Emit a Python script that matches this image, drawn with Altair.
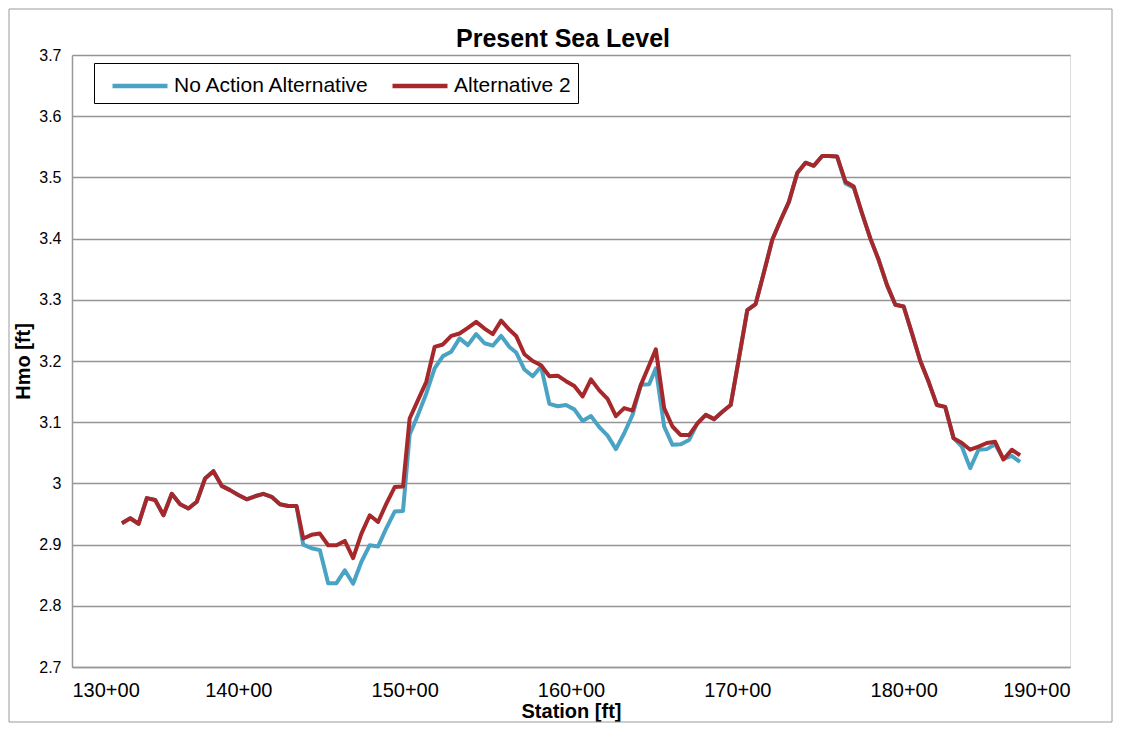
import altair as alt
import pandas as pd

stations = [133.0, 133.5, 134.0, 134.5, 135.0, 135.5, 136.0, 136.5, 137.0, 137.5,
            138.0, 138.5, 139.0, 139.5, 140.0, 140.5, 141.0, 141.5, 142.0, 142.5,
            143.0, 143.5, 143.9, 144.4, 144.9, 145.4, 145.9, 146.4, 146.9, 147.4,
            147.9, 148.4, 148.9, 149.4, 149.9, 150.3, 150.8, 151.3, 151.8, 152.3,
            152.8, 153.3, 153.8, 154.3, 154.8, 155.3, 155.8, 156.3, 156.7, 157.2,
            157.7, 158.2, 158.7, 159.2, 159.7, 160.2, 160.7, 161.2, 161.7, 162.2,
            162.7, 163.2, 163.7, 164.2, 164.7, 165.1, 165.6, 166.1, 166.6, 167.1,
            167.6, 168.1, 168.6, 169.1, 169.6, 170.1, 170.6, 171.1, 171.6, 172.1,
            172.6, 173.1, 173.6, 174.1, 174.6, 175.1, 175.5, 176.0, 176.5, 177.0,
            177.5, 178.0, 178.5, 179.0, 179.5, 180.0, 180.5, 181.0, 181.5, 182.0,
            182.5, 183.0, 183.5, 184.0, 184.5, 185.0, 185.5, 186.0, 186.5, 187.0]

alternative_2 = [2.935, 2.943, 2.934, 2.976, 2.973, 2.948, 2.983, 2.966, 2.959, 2.970,
                 3.008, 3.020, 2.996, 2.989, 2.981, 2.974, 2.979, 2.983, 2.978, 2.966,
                 2.963, 2.963, 2.910, 2.916, 2.918, 2.899, 2.899, 2.906, 2.878, 2.918,
                 2.948, 2.937, 2.967, 2.994, 2.995, 3.106, 3.136, 3.166, 3.223, 3.227,
                 3.241, 3.245, 3.254, 3.264, 3.253, 3.244, 3.266, 3.251, 3.241, 3.211,
                 3.200, 3.193, 3.175, 3.176, 3.167, 3.159, 3.142, 3.170, 3.152, 3.138,
                 3.110, 3.123, 3.119, 3.161, 3.193, 3.219, 3.123, 3.093, 3.079, 3.079,
                 3.098, 3.112, 3.105, 3.117, 3.128, 3.205, 3.283, 3.293, 3.345, 3.398,
                 3.430, 3.460, 3.507, 3.524, 3.519, 3.535, 3.535, 3.534, 3.493, 3.485,
                 3.441, 3.400, 3.365, 3.324, 3.292, 3.289, 3.245, 3.200, 3.166, 3.128,
                 3.125, 3.074, 3.066, 3.055, 3.060, 3.066, 3.068, 3.039, 3.055, 3.046]

no_action = [2.935, 2.943, 2.934, 2.976, 2.973, 2.948, 2.983, 2.966, 2.959, 2.970,
             3.008, 3.020, 2.996, 2.989, 2.981, 2.974, 2.979, 2.983, 2.978, 2.966,
             2.963, 2.963, 2.900, 2.894, 2.891, 2.837, 2.837, 2.858, 2.836, 2.872,
             2.899, 2.897, 2.927, 2.954, 2.955, 3.080, 3.112, 3.147, 3.188, 3.208,
             3.215, 3.237, 3.226, 3.244, 3.229, 3.225, 3.241, 3.223, 3.214, 3.186,
             3.175, 3.191, 3.130, 3.126, 3.128, 3.121, 3.102, 3.110, 3.092, 3.078,
             3.056, 3.082, 3.112, 3.161, 3.162, 3.188, 3.093, 3.063, 3.064, 3.071,
             3.098, 3.112, 3.105, 3.117, 3.128, 3.205, 3.283, 3.293, 3.345, 3.398,
             3.430, 3.460, 3.507, 3.524, 3.519, 3.535, 3.535, 3.534, 3.490, 3.483,
             3.441, 3.400, 3.365, 3.324, 3.292, 3.289, 3.245, 3.200, 3.166, 3.128,
             3.125, 3.074, 3.060, 3.025, 3.055, 3.056, 3.064, 3.040, 3.045, 3.035]

series_names = ["No Action Alternative", "Alternative 2"]
series_colors = ["#4BA3C3", "#A6282B"]
x_ticks = [130, 140, 150, 160, 170, 180, 190]
y_ticks = [2.7, 2.8, 2.9, 3.0, 3.1, 3.2, 3.3, 3.4, 3.5, 3.6, 3.7]

df = pd.concat([
    pd.DataFrame({"station": stations, "hmo": no_action, "series": series_names[0]}),
    pd.DataFrame({"station": stations, "hmo": alternative_2, "series": series_names[1]}),
])

FONT = "Liberation Sans"
W, H = 998, 612

x_enc = alt.X("station:Q",
              scale=alt.Scale(domain=[130, 190], nice=False, zero=False),
              axis=alt.Axis(values=x_ticks, labelExpr="datum.value + '+00'",
                            title="Station [ft]", grid=False, ticks=False,
                            domainColor="#999999", domainWidth=1.5,
                            labelFontSize=20, labelPadding=13, labelColor="black",
                            labelFont=FONT, titleFont=FONT, titleFontSize=20,
                            titleFontWeight="bold", titleColor="black", titlePadding=1))
y_enc = alt.Y("hmo:Q",
              scale=alt.Scale(domain=[2.7, 3.7], nice=False, zero=False),
              axis=alt.Axis(values=y_ticks, format="~g", title="Hmo [ft]",
                            grid=True, gridColor="#959595", gridWidth=1.5,
                            ticks=False, domainColor="#999999", domainWidth=1.5,
                            labelFontSize=16, labelPadding=11, labelColor="black",
                            labelFont=FONT, titleFont=FONT, titleFontSize=20,
                            titleFontWeight="bold", titleColor="black", titlePadding=5))
color_enc = alt.Color("series:N",
                      scale=alt.Scale(domain=series_names, range=series_colors),
                      legend=alt.Legend(title=None, orient="none", legendX=22, legendY=8,
                                        direction="horizontal", symbolType="M-2,0H2",
                                        symbolSize=756, symbolStrokeWidth=4.5,
                                        symbolOffset=23,
                                        labelFontSize=21, labelFont=FONT, labelColor="black",
                                        labelLimit=400, columnPadding=10, labelOffset=18,
                                        strokeColor="black", fillColor="white",
                                        padding=7))

lines = []
for name in series_names:
    lines.append(
        alt.Chart(df).transform_filter(alt.datum.series == name)
        .mark_line(strokeWidth=4, strokeJoin="round")
        .encode(x=x_enc, y=y_enc, color=color_enc)
    )

border = alt.Chart(pd.DataFrame({"a": [0]})).mark_rect(
    fill=None, stroke="#9a9a9a", strokeWidth=1
).encode(x=alt.value(-63), x2=alt.value(1040), y=alt.value(-46), y2=alt.value(667))

chart = alt.layer(border, *lines).properties(
    width=W, height=H,
    title=alt.TitleParams("Present Sea Level", fontSize=25, fontWeight="bold",
                          font=FONT, color="black", anchor="middle", offset=0,
                          baseline="alphabetic", dx=-8, dy=63),
    autosize=alt.AutoSizeParams(type="none"),
    padding={"left": 64, "top": 47, "right": 44, "bottom": 56},
).configure_view(stroke=None).configure(background="white")

chart.save("out.html", embed_options={"renderer": "svg", "actions": False})
